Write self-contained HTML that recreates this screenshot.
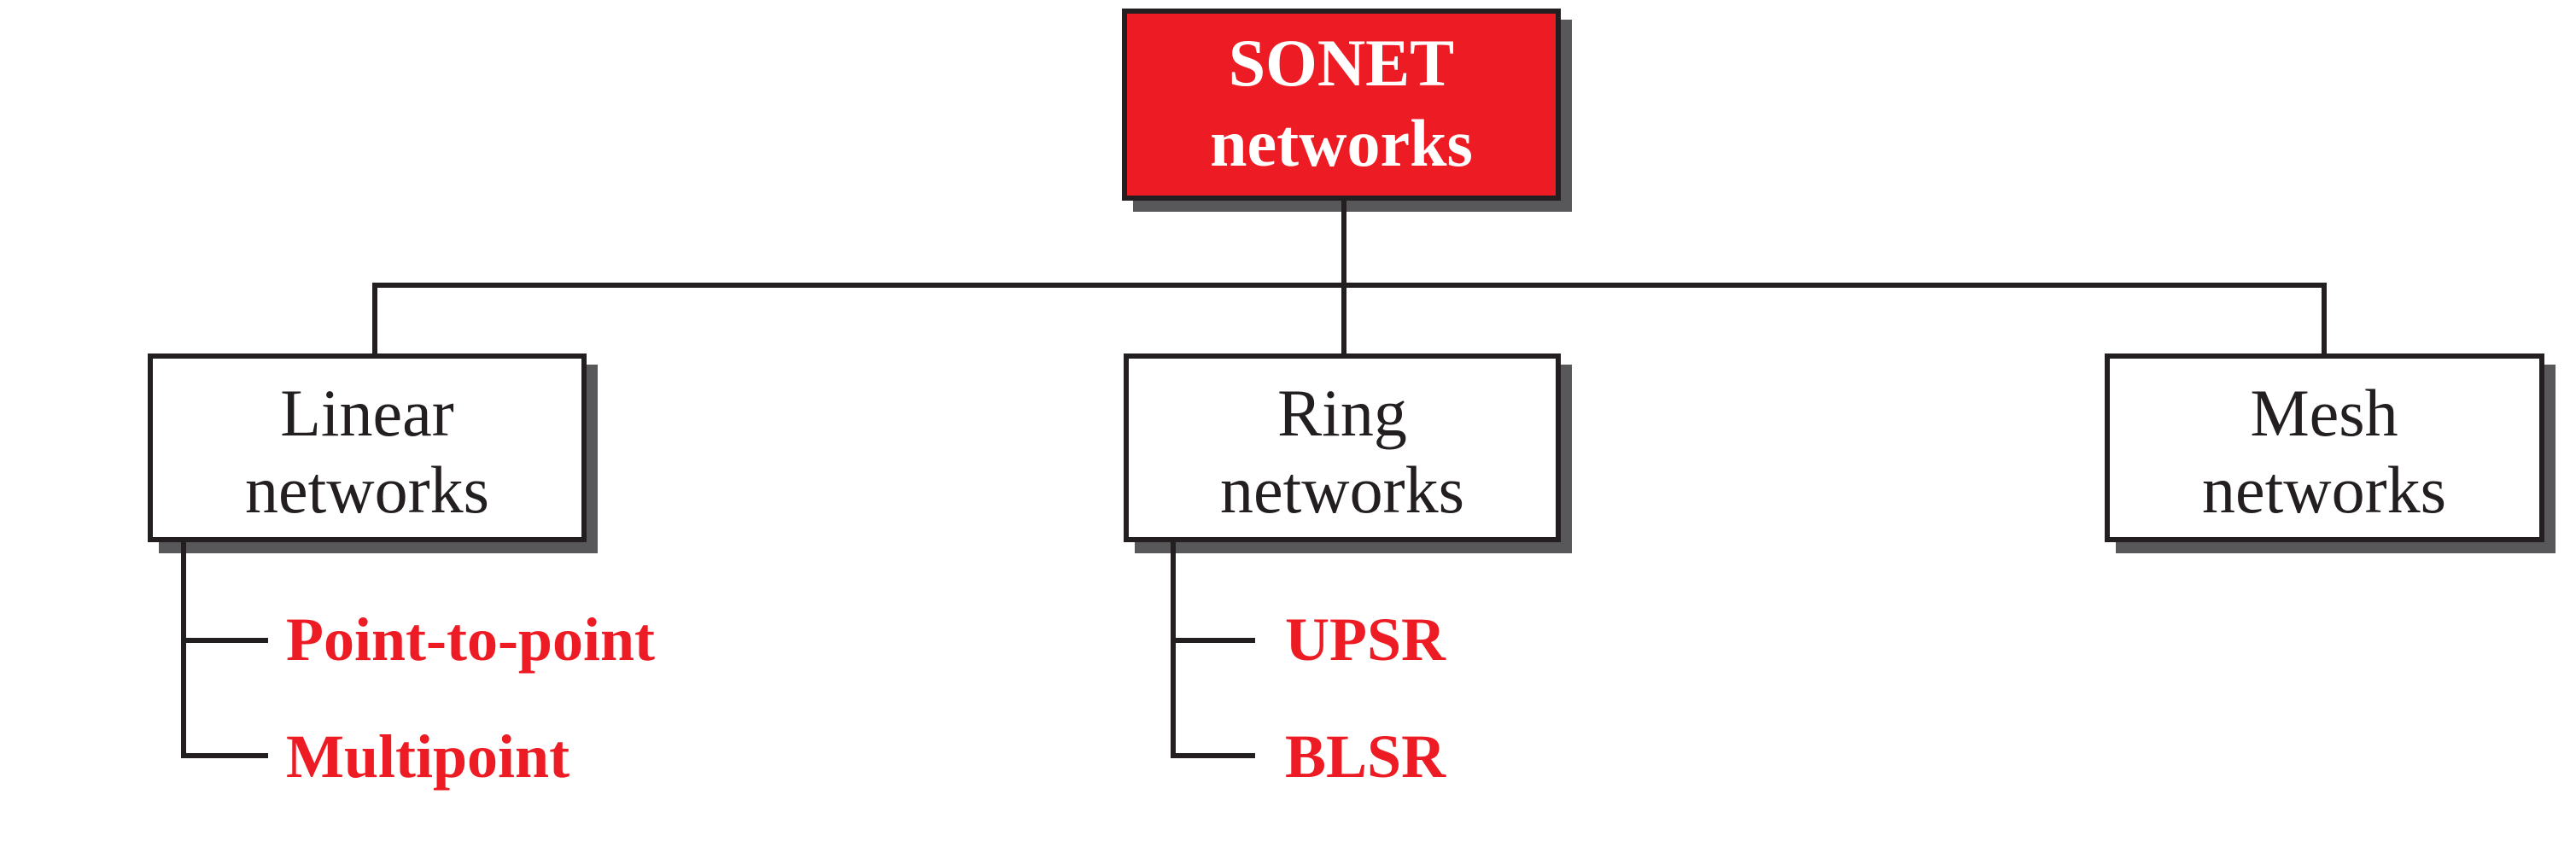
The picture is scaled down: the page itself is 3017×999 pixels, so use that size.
<!DOCTYPE html>
<html><head><style>html,body{margin:0;padding:0;background:#fff;}svg{display:block;}</style></head>
<body>
<svg width="3017" height="999" viewBox="0 0 3017 999" xmlns="http://www.w3.org/2000/svg" font-family="Liberation Serif, serif">
<g fill="#58585a">
<rect x="1327" y="23" width="514" height="225"/>
<rect x="186" y="427" width="514" height="221"/>
<rect x="1329" y="427" width="512" height="221"/>
<rect x="2478" y="427" width="515" height="221"/>
</g>
<g stroke="#231f20" stroke-width="6" fill="none">
<rect x="1317" y="13" width="508" height="219" fill="#ed1c24"/>
<rect x="176" y="417" width="508" height="215" fill="#fff"/>
<rect x="1319" y="417" width="506" height="215" fill="#fff"/>
<rect x="2468" y="417" width="509" height="215" fill="#fff"/>
<line x1="1574" y1="232" x2="1574" y2="417"/>
<line x1="439" y1="334" x2="2722" y2="334"/>
<line x1="439" y1="331" x2="439" y2="417"/>
<line x1="2722" y1="331" x2="2722" y2="417"/>
<polyline points="215,635 215,885 314,885"/>
<line x1="215" y1="750" x2="314" y2="750"/>
<polyline points="1374,635 1374,885 1470,885"/>
<line x1="1374" y1="750" x2="1470" y2="750"/>
</g>
<g font-size="78" text-anchor="middle">
<text x="1571" y="100" fill="#fff" font-weight="bold">SONET</text>
<text x="1571" y="194" fill="#fff" font-weight="bold">networks</text>
<text x="430" y="510" fill="#231f20">Linear</text>
<text x="430" y="600" fill="#231f20">networks</text>
<text x="1572" y="510" fill="#231f20">Ring</text>
<text x="1572" y="600" fill="#231f20">networks</text>
<text x="2722" y="510" fill="#231f20">Mesh</text>
<text x="2722" y="600" fill="#231f20">networks</text>
</g>
<g font-size="72" font-weight="bold" fill="#ed1c24">
<text x="335" y="773">Point-to-point</text>
<text x="335" y="910">Multipoint</text>
<text x="1505" y="773">UPSR</text>
<text x="1505" y="910">BLSR</text>
</g>
</svg>
</body></html>
